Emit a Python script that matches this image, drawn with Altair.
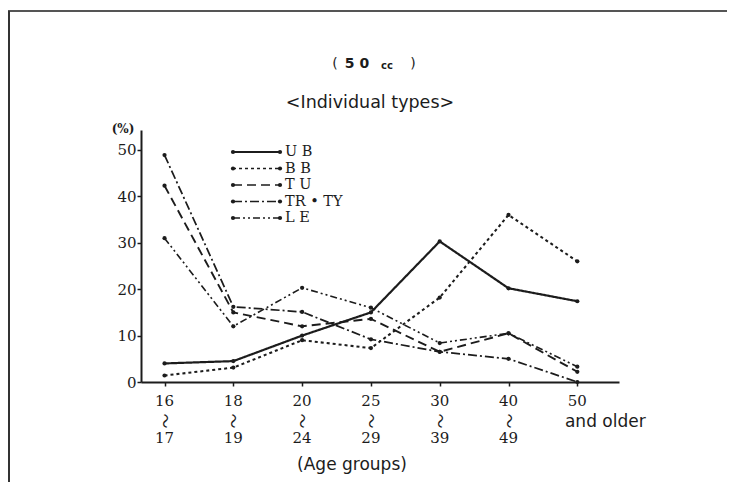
import altair as alt
import pandas as pd

# ---- data ----
groups = ["16-17", "18-19", "20-24", "25-29", "30-39", "40-49", "50+"]
pos = [0, 1, 2, 3, 4, 5, 6]
series = ["U B", "B B", "T U", "TR • TY", "L E"]
ub = [4.0, 4.5, 10.0, 15.0, 30.3, 20.2, 17.4]
bb = [1.4, 3.1, 9.0, 7.3, 18.2, 36.0, 26.0]
tu = [42.3, 15.0, 12.0, 13.6, 6.5, 10.5, 2.2]
trty = [48.9, 16.2, 15.1, 9.2, 6.5, 5.0, 0.0]
le = [31.0, 12.0, 20.3, 16.0, 8.4, 10.5, 3.3]
y_ticks = [0, 10, 20, 30, 40, 50]
lab_top = ["16", "18", "20", "25", "30", "40", "50"]
lab_mid = ["〜", "〜", "〜", "〜", "〜", "〜", ""]
lab_bot = ["17", "19", "24", "29", "39", "49", ""]
lab_older = ["", "", "", "", "", "", "and older"]

rows = []
for s, vals in zip(series, [ub, bb, tu, trty, le]):
    for p, g, v in zip(pos, groups, vals):
        rows.append({"series": s, "pos": p, "group": g, "value": v})
df = pd.DataFrame(rows)
ticks_df = pd.DataFrame({"pos": pos, "top": lab_top, "mid": lab_mid,
                         "bot": lab_bot, "older": lab_older})

# ---- styles ----
INK = "#1c1c1c"
dashes = [[1, 0], [3, 3], [9, 5], [9, 3, 2, 3], [7, 3, 2, 3, 2, 3]]
widths = [2.2, 1.6, 1.6, 1.6, 1.6]
SERIF = "DejaVu Serif"
SANS = "DejaVu Sans"

xscale = alt.Scale(domain=[-0.342, 6.606], nice=False, zero=False)
yscale = alt.Scale(domain=[0, 54.3], nice=False, zero=True)

lines = alt.Chart(df).mark_line(color=INK).encode(
    x=alt.X("pos:Q", scale=xscale,
            axis=alt.Axis(values=pos, labels=False, title=None, grid=False,
                          tickSize=4, tickWidth=1.5, tickColor=INK,
                          domainWidth=2, domainColor=INK)),
    y=alt.Y("value:Q", scale=yscale,
            axis=alt.Axis(values=y_ticks, title=None, grid=False,
                          tickSize=4, tickWidth=1.5, tickColor=INK,
                          domainWidth=2, domainColor=INK,
                          labelFont=SERIF, labelFontSize=15, labelColor=INK,
                          labelPadding=1)),
    strokeDash=alt.StrokeDash("series:N", scale=alt.Scale(domain=series, range=dashes), legend=None),
    strokeWidth=alt.StrokeWidth("series:N", scale=alt.Scale(domain=series, range=widths), legend=None),
    detail="series:N",
)

points = alt.Chart(df).mark_circle(color=INK, size=18, opacity=1).encode(
    x=alt.X("pos:Q", scale=xscale),
    y=alt.Y("value:Q", scale=yscale),
)

def xlabels(field, yv, font, size, angle=0, dx=0):
    return alt.Chart(ticks_df).mark_text(font=font, fontSize=size, color=INK,
                                          baseline="middle", angle=angle, dx=dx).encode(
        x=alt.X("pos:Q", scale=xscale), y=alt.value(yv), text=f"{field}:N")

one = pd.DataFrame({"k": [0]})

def txt(t, x, y, font, size, align="center", baseline="middle", weight="normal"):
    return alt.Chart(one).mark_text(font=font, fontSize=size, color=INK, align=align,
                                    baseline=baseline, fontWeight=weight).encode(
        x=alt.value(x), y=alt.value(y), text=alt.value(t))

layers = [lines, points,
          xlabels("top", 271, SERIF, 15),
          xlabels("mid", 291, "Noto Sans CJK JP", 15, angle=90),
          xlabels("bot", 308, SERIF, 15),
          xlabels("older", 292, SANS, 17, dx=28)]

# titles
layers += [
    txt("(", 194, -66, SANS, 14),
    txt("5 0", 216, -66, SANS, 14, weight="bold"),
    txt("cc", 246, -64, SANS, 10, weight="bold"),
    txt(")", 272, -66, SANS, 14),
    txt("<Individual types>", 229, -22, SANS, 17.5, baseline="alphabetic"),
    txt("(%)", -18, -1, SERIF, 12, weight="bold"),
    txt("(Age groups)", 211, 335, SANS, 17),
]

# legend
leg_y = [22, 38.5, 55, 71.5, 88]
for s, d, w, yv in zip(series, dashes, widths, leg_y):
    layers.append(alt.Chart(one).mark_rule(color=INK, strokeDash=d, strokeWidth=w).encode(
        x=alt.value(92), x2=alt.value(139), y=alt.value(yv)))
    for xv in (92, 139):
        layers.append(alt.Chart(one).mark_circle(color=INK, size=18, opacity=1).encode(
            x=alt.value(xv), y=alt.value(yv)))
    layers.append(txt(s, 144, yv, SERIF, 14.5, align="left"))

# outer frame
layers.append(alt.Chart(one).mark_rule(color="#555", strokeWidth=2).encode(
    x=alt.value(-133), x2=alt.value(600), y=alt.value(-119)))
layers.append(alt.Chart(one).mark_rule(color="#333", strokeWidth=2).encode(
    x=alt.value(-132), y=alt.value(-119), y2=alt.value(360)))

chart = alt.layer(*layers).properties(
    width=478, height=252,
    padding={"left": 133, "top": 122, "right": 108, "bottom": 100},
    autosize=alt.AutoSizeParams(type="none"),
    background="white",
).configure_view(stroke=None)

chart.save("out.html", embed_options={"renderer": "svg", "actions": False})
